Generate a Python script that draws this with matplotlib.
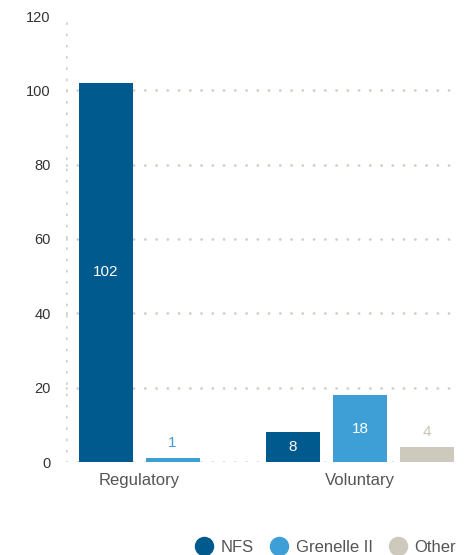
import numpy as np
import matplotlib.pyplot as plt
from matplotlib.lines import Line2D

# data
categories = ["Regulatory", "Voluntary"]
series_names = ["NFS", "Grenelle II", "Other"]
regulatory_vals = [102, 1]        # no "Other" bar in this group
voluntary_vals = [8, 18, 4]
colors = ["#005a8e", "#3e9fd6", "#cdcabd"]
yticks = [0, 20, 40, 60, 80, 100, 120]

plt.rcParams['font.family'] = ['Liberation Sans', 'DejaVu Sans']

fig = plt.figure(figsize=(4.71, 5.55), dpi=100)
ax = fig.add_axes([66 / 471, 93 / 555, 389 / 471, 446 / 555])

# layout in px-like units along x
slot = 67
width = 54
group_centers = [73, 294]
groups = [regulatory_vals, voluntary_vals]

for gc, vals in zip(group_centers, groups):
    n = len(vals)
    offsets = (np.arange(n) - (n - 1) / 2) * slot
    for i, v in enumerate(vals):
        x = gc + offsets[i]
        ax.bar(x, v, width=width, color=colors[i], zorder=3)
        # labels: inside (white) for big bars, above (bar colour) for small ones
        if v >= 8:
            ax.text(x, v / 2, str(v), ha='center', va='center',
                    color='white', fontsize=11, zorder=4)
        else:
            tcol = colors[i] if i != 2 else "#c9c5b8"
            ax.text(x, v + 2.2, str(v), ha='center', va='bottom',
                    color=tcol, fontsize=11, zorder=4)

# dotted grid
dot = dict(color='#d3cfc4', linewidth=2, linestyle=(0, (0.05, 4)),
           dash_capstyle='round', zorder=1)
for y in yticks[:-1]:
    ax.plot([0, 389], [y, y], **dot)
ax.plot([0, 0], [0, 120], **dot)

ax.set_xlim(0, 389)
ax.set_ylim(0, 120)
for s in ax.spines.values():
    s.set_visible(False)
ax.set_yticks(yticks)
ax.set_yticklabels([str(t) for t in yticks], fontsize=10.5, color='#333333')
ax.set_xticks(group_centers)
ax.set_xticklabels(categories, fontsize=12, color='#555555')
ax.tick_params(axis='y', length=0, pad=11)
ax.tick_params(axis='x', length=0, pad=8)

handles = [Line2D([], [], marker='o', linestyle='none', markersize=13,
                  markerfacecolor=c, markeredgecolor=c) for c in colors]
fig.legend(handles, series_names, loc='lower right', ncol=3,
           bbox_to_anchor=(1.0, -0.027), frameon=False, fontsize=12,
           handletextpad=0.0, columnspacing=0.5, labelcolor='#555555')

fig.savefig("out.png", dpi=100)
